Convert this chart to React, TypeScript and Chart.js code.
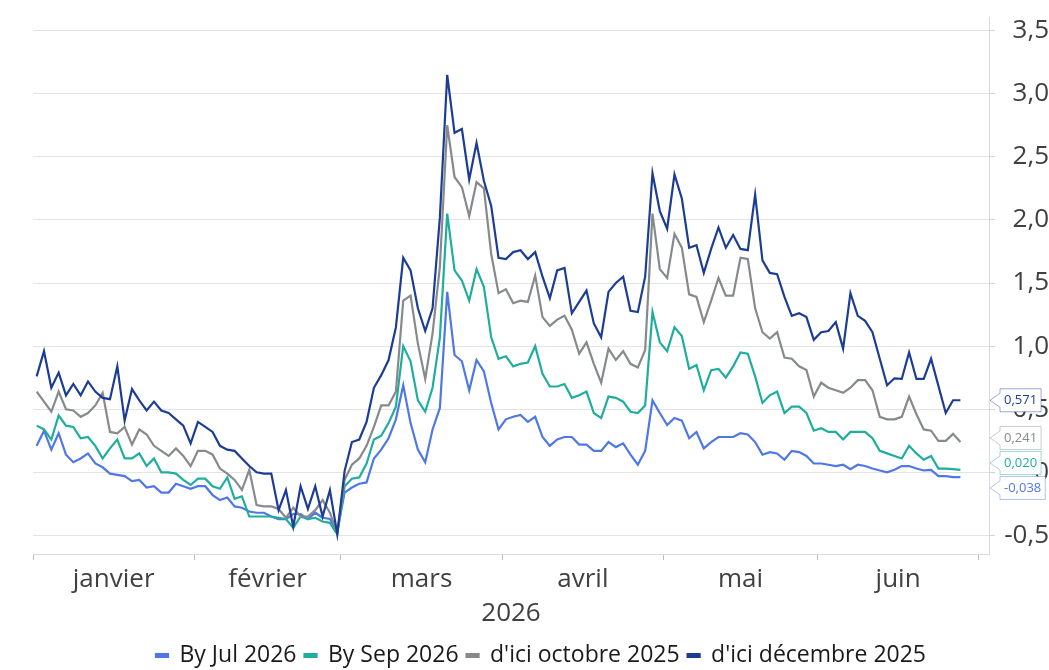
import React, { useEffect, useRef } from 'react';
import { Chart, registerables } from 'chart.js';

Chart.register(...registerables);

// ---- Data ----
const monthNames = ['janvier', 'février', 'mars', 'avril', 'mai', 'juin'];
const monthDays = [22, 20, 22, 22, 21, 22];
const yearLabel = '2026';
const yTickValues = [-0.5, 0, 0.5, 1, 1.5, 2, 2.5, 3, 3.5];
const seriesNames = ['By Jul 2026', 'By Sep 2026', "d'ici octobre 2025", "d'ici décembre 2025"];
const seriesColors = ['#4f78e6', '#1fae9e', '#878a8d', '#1c3d93'];

const byJul2026 = [
  0.21, 0.33, 0.18, 0.31, 0.14, 0.08, 0.11, 0.15, 0.07, 0.04, -0.01, -0.02, -0.03, -0.07, -0.06, -0.12, -0.11, -0.16, -0.16, -0.09, -0.11, -0.13,
  -0.11, -0.11, -0.18, -0.22, -0.2, -0.27, -0.28, -0.31, -0.32, -0.32, -0.35, -0.37, -0.37, -0.33, -0.33, -0.37, -0.32, -0.36, -0.37, -0.47,
  -0.16, -0.12, -0.09, -0.08, 0.11, 0.18, 0.27, 0.42, 0.69, 0.39, 0.18, 0.08, 0.34, 0.51, 1.43, 0.93, 0.88, 0.65, 0.89, 0.8, 0.55, 0.34,
  0.42, 0.44, 0.455, 0.4, 0.44, 0.28, 0.21, 0.26, 0.28, 0.28, 0.22, 0.22, 0.17, 0.17, 0.24, 0.2, 0.23, 0.14, 0.06, 0.17, 0.57, 0.47,
  0.375, 0.43, 0.41, 0.27, 0.32, 0.19, 0.24, 0.28, 0.28, 0.28, 0.31, 0.3, 0.24, 0.14, 0.16, 0.15, 0.1, 0.17, 0.16, 0.13, 0.07,
  0.07, 0.06, 0.05, 0.06, 0.025, 0.06, 0.05, 0.03, 0.015, 0.0, 0.02, 0.05, 0.05, 0.03, 0.015, 0.02, -0.03, -0.03, -0.038, -0.038,
];
const bySep2026 = [
  0.37, 0.34, 0.26, 0.45, 0.37, 0.36, 0.27, 0.28, 0.21, 0.11, 0.19, 0.26, 0.11, 0.11, 0.15, 0.05, 0.11, 0.0, 0.0, -0.01, -0.06, -0.1,
  -0.05, -0.05, -0.11, -0.13, -0.04, -0.21, -0.19, -0.35, -0.35, -0.35, -0.35, -0.36, -0.37, -0.44, -0.35, -0.37, -0.36, -0.39, -0.4, -0.49,
  -0.11, -0.05, -0.04, 0.07, 0.26, 0.29, 0.39, 0.52, 1.0, 0.88, 0.57, 0.48, 0.67, 1.07, 2.05, 1.6, 1.52, 1.36, 1.61, 1.47, 1.07, 0.9,
  0.92, 0.84, 0.86, 0.87, 1.0, 0.78, 0.68, 0.68, 0.7, 0.59, 0.61, 0.64, 0.47, 0.43, 0.6, 0.59, 0.56, 0.48, 0.47, 0.53, 1.27, 1.03,
  0.96, 1.15, 1.08, 0.82, 0.85, 0.65, 0.81, 0.82, 0.75, 0.84, 0.95, 0.94, 0.76, 0.55, 0.61, 0.64, 0.47, 0.52, 0.52, 0.47, 0.33,
  0.35, 0.32, 0.32, 0.26, 0.32, 0.32, 0.32, 0.27, 0.17, 0.15, 0.13, 0.11, 0.21, 0.15, 0.1, 0.13, 0.03, 0.03, 0.025, 0.02,
];
const dIciOctobre2025 = [
  0.64, 0.56, 0.48, 0.64, 0.5, 0.49, 0.44, 0.47, 0.53, 0.63, 0.32, 0.31, 0.36, 0.22, 0.34, 0.3, 0.21, 0.17, 0.13, 0.19, 0.13, 0.05,
  0.17, 0.17, 0.14, 0.03, -0.01, -0.06, -0.14, 0.02, -0.26, -0.27, -0.27, -0.29, -0.36, -0.28, -0.35, -0.35, -0.3, -0.22, -0.32, -0.48,
  -0.06, 0.06, 0.11, 0.21, 0.36, 0.53, 0.53, 0.64, 1.36, 1.4, 1.02, 0.74, 1.1, 1.63, 2.75, 2.34, 2.26, 2.03, 2.3, 2.25, 1.73, 1.42,
  1.45, 1.34, 1.36, 1.35, 1.56, 1.23, 1.16, 1.21, 1.24, 1.13, 0.94, 1.03, 0.86, 0.71, 0.98, 0.89, 0.96, 0.86, 0.83, 0.97, 2.05, 1.61,
  1.54, 1.89, 1.78, 1.41, 1.39, 1.19, 1.36, 1.54, 1.4, 1.4, 1.7, 1.69, 1.3, 1.11, 1.06, 1.11, 0.91, 0.9, 0.84, 0.81, 0.6,
  0.71, 0.67, 0.65, 0.63, 0.67, 0.73, 0.73, 0.65, 0.44, 0.42, 0.42, 0.44, 0.6, 0.46, 0.34, 0.33, 0.25, 0.25, 0.305, 0.241,
];
const dIciDecembre2025 = [
  0.76, 0.96, 0.67, 0.79, 0.61, 0.7, 0.61, 0.72, 0.64, 0.59, 0.58, 0.84, 0.41, 0.66, 0.57, 0.49, 0.56, 0.49, 0.47, 0.42, 0.37, 0.23,
  0.4, 0.36, 0.32, 0.21, 0.18, 0.17, 0.11, 0.05, 0.0, -0.01, -0.01, -0.3, -0.14, -0.43, -0.11, -0.29, -0.11, -0.35, -0.14, -0.49,
  0.01, 0.24, 0.26, 0.4, 0.67, 0.77, 0.89, 1.15, 1.7, 1.6, 1.3, 1.12, 1.3, 2.02, 3.15, 2.69, 2.72, 2.32, 2.61, 2.31, 2.11, 1.7,
  1.69, 1.745, 1.76, 1.69, 1.745, 1.55, 1.38, 1.6, 1.62, 1.26, 1.35, 1.44, 1.18, 1.07, 1.43, 1.5, 1.55, 1.28, 1.27, 1.55, 2.37, 2.07,
  1.93, 2.36, 2.17, 1.78, 1.8, 1.58, 1.77, 1.94, 1.78, 1.88, 1.77, 1.76, 2.2, 1.68, 1.58, 1.57, 1.39, 1.24, 1.26, 1.23, 1.05,
  1.11, 1.12, 1.19, 0.98, 1.42, 1.24, 1.2, 1.11, 0.9, 0.69, 0.745, 0.74, 0.95, 0.74, 0.74, 0.9, 0.685, 0.47, 0.571, 0.571,
];

const seriesValues = [byJul2026, bySep2026, dIciOctobre2025, dIciDecembre2025];

const FONT = "'Open Sans', 'Noto Sans', sans-serif";

// month boundaries (in day-index units) and mid points
const boundaries: number[] = [-0.5];
monthDays.forEach((d) => boundaries.push(boundaries[boundaries.length - 1] + d));
const mids = monthDays.map((d, k) => boundaries[k] + d / 2);

const near = (a: number, b: number) => Math.abs(a - b) < 1e-6;
const fmt1 = (v: number) => (near(v, 0) ? '0' : v.toFixed(1).replace('.', ','));
const fmt3 = (v: number) => v.toFixed(3).replace('.', ',');

const endLabelPlugin = {
  id: 'endLabels',
  afterDraw(chart: any) {
    const { ctx, chartArea } = chart;
    const yScale = chart.scales.y;
    const items = chart.data.datasets.map((ds: any) => {
      const last = ds.data[ds.data.length - 1].y;
      return { text: fmt3(last), color: ds.borderColor, y: yScale.getPixelForValue(last) };
    });
    const h = 23;
    const gap = 2;
    const sorted = [...items].sort((a: any, b: any) => a.y - b.y);
    for (let it = 0; it < 200; it++) {
      let moved = false;
      for (let k = 0; k < sorted.length - 1; k++) {
        const d = sorted[k + 1].y - sorted[k].y;
        if (d < h + gap - 0.01) {
          const push = (h + gap - d) / 2;
          sorted[k].y -= push;
          sorted[k + 1].y += push;
          moved = true;
        }
      }
      if (!moved) break;
    }
    ctx.save();
    ctx.font = `500 13px ${FONT}`;
    sorted.forEach((it: any) => {
      const tw = ctx.measureText(it.text).width;
      const left = chartArea.right + 11;
      const w = Math.max(37, tw + 8);
      const top = it.y - h / 2;
      ctx.beginPath();
      ctx.moveTo(chartArea.right + 1, it.y);
      ctx.lineTo(left, it.y - 7);
      ctx.lineTo(left, top);
      ctx.lineTo(left + w, top);
      ctx.lineTo(left + w, top + h);
      ctx.lineTo(left, top + h);
      ctx.lineTo(left, it.y + 7);
      ctx.closePath();
      ctx.fillStyle = '#ffffff';
      ctx.fill();
      ctx.strokeStyle = it.color + '70';
      ctx.lineWidth = 1;
      ctx.stroke();
      ctx.fillStyle = it.color;
      ctx.textAlign = 'center';
      ctx.textBaseline = 'middle';
      ctx.fillText(it.text, left + w / 2, it.y + 0.5);
    });
    ctx.restore();
  },
};

export default function App() {
  const canvasRef = useRef<HTMLCanvasElement | null>(null);

  useEffect(() => {
    if (!canvasRef.current) return;
    const chart = new Chart(canvasRef.current, {
      type: 'line',
      data: {
        datasets: seriesValues.map((vals, i) => ({
          label: seriesNames[i],
          data: vals.map((v, k) => ({ x: k, y: v })),
          borderColor: seriesColors[i],
          backgroundColor: seriesColors[i],
          borderWidth: 2.2,
          pointRadius: 0,
          pointHoverRadius: 0,
          tension: 0,
          fill: false,
          order: seriesValues.length - 1 - i,
        })),
      },
      options: {
        animation: false,
        responsive: true,
        maintainAspectRatio: false,
        layout: { padding: { left: 33, top: 0, right: 0, bottom: -7 } },
        plugins: {
          tooltip: { enabled: false },
          legend: {
            position: 'bottom',
            labels: {
              boxWidth: 12,
              boxHeight: 3,
              padding: 8,
              color: '#1a1a1a',
              font: { size: 23, family: FONT },
              sort: (a: any, b: any) => a.datasetIndex - b.datasetIndex,
            },
          },
        },
        scales: {
          x: {
            type: 'linear',
            min: -0.5,
            max: 129.9,
            afterBuildTicks: (scale: any) => {
              scale.ticks = [...boundaries, ...mids].sort((a, b) => a - b).map((v) => ({ value: v }));
            },
            afterFit: (scale: any) => {
              scale.height = 82;
            },
            ticks: {
              autoSkip: false,
              maxRotation: 0,
              minRotation: 0,
              padding: 4,
              color: '#404040',
              font: { size: 26, family: FONT },
              callback: (value: any) => {
                const idx = mids.findIndex((m) => near(m, Number(value)));
                return idx >= 0 ? monthNames[idx] : '';
              },
            },
            grid: {
              drawOnChartArea: false,
              drawTicks: true,
              tickLength: 6,
              tickColor: (c: any) =>
                c.tick && boundaries.some((b) => near(b, c.tick.value)) ? '#bdbdbd' : 'rgba(0,0,0,0)',
            },
            border: { display: true, color: '#d9d9d9' },
            title: {
              display: true,
              text: yearLabel,
              color: '#404040',
              font: { size: 26, family: FONT },
              padding: { top: 0, bottom: 7 },
            },
          },
          y: {
            position: 'right',
            min: -0.647,
            max: 3.603,
            afterBuildTicks: (scale: any) => {
              scale.ticks = yTickValues.map((v) => ({ value: v }));
            },
            afterFit: (scale: any) => {
              scale.width = 60;
            },
            ticks: {
              padding: 2,
              crossAlign: 'far',
              color: '#404040',
              font: { size: 26, family: FONT },
              callback: (value: any) => fmt1(Number(value)),
            },
            grid: {
              color: '#e4e4e4',
              lineWidth: 1,
              tickLength: 6,
              tickColor: '#d4d4d4',
            },
            border: { display: true, color: '#d9d9d9' },
          },
        },
      },
      plugins: [endLabelPlugin],
    } as any);
    return () => chart.destroy();
  }, []);

  return (
    <div style={{ position: 'absolute', left: 0, top: 0, width: 1049, height: 670, background: '#fff' }}>
      <canvas ref={canvasRef} />
    </div>
  );
}
